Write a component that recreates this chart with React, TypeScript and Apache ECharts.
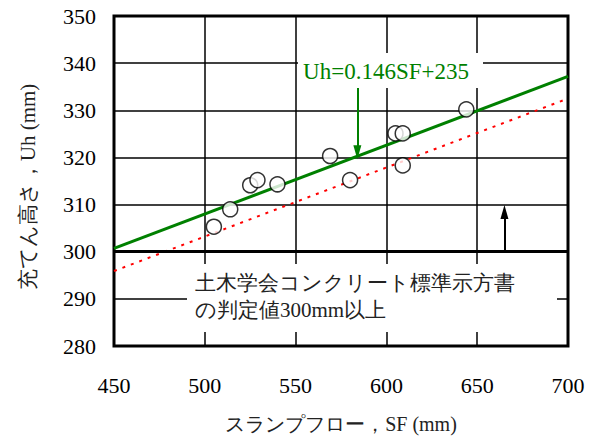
import React, { useEffect, useRef } from "react";
import * as echarts from "echarts";

const sfValues = [505, 514, 525, 529, 540, 569, 580, 605, 609, 609, 644];
const uhValues = [305.3, 309, 314.1, 315.2, 314.3, 320.3, 315.2, 325.1, 325.1, 318.3, 330.2];
const regressionLine = [[450, 300.7], [700, 337.2]];
const lowerLine = [[450, 295.9], [700, 332.5]];
const criterion = 300;
const greenArrow = [[584, 335.4], [584, 321.1]];
const blackArrow = [[665, 300], [665, 308.4]];
const xRange = [450, 700, 50];
const yRange = [280, 350, 10];
const equationText = "Uh=0.146SF+235";
const noteLines = ["土木学会コンクリート標準示方書", "の判定値300mm以上"];
const xName = "スランプフロー，SF (mm)";
const yName = "充てん高さ，Uh (mm)";

const FONT = "Liberation Serif";

export default function App() {
  const ref = useRef<HTMLDivElement>(null);
  useEffect(() => {
    if (!ref.current) return;
    document.body.style.margin = "0";
    const chart = echarts.init(ref.current, null, { renderer: "svg" });
    const points = sfValues.map((x, i) => [x, uhValues[i]]);
    chart.setOption({
      animation: false,
      textStyle: { fontFamily: FONT },
      grid: {
        left: 114,
        right: 27,
        top: 16,
        bottom: 93,
        show: true,
        borderColor: "#000",
        borderWidth: 3,
        backgroundColor: "transparent",
      },
      xAxis: {
        type: "value",
        min: xRange[0],
        max: xRange[1],
        interval: xRange[2],
        name: xName,
        nameLocation: "middle",
        nameGap: 68,
        nameTextStyle: { fontFamily: FONT, fontSize: 20, color: "#222" },
        axisLine: { show: false },
        axisTick: { show: false },
        axisLabel: { fontFamily: FONT, fontSize: 22, color: "#000", margin: 28 },
        splitLine: { show: true, lineStyle: { color: "#000", width: 1.5 } },
      },
      yAxis: {
        type: "value",
        min: yRange[0],
        max: yRange[1],
        interval: yRange[2],
        name: yName,
        nameLocation: "middle",
        nameGap: 76,
        nameTextStyle: { fontFamily: FONT, fontSize: 21, color: "#222", padding: [0, 12, 0, 0] },
        axisLine: { show: false },
        axisTick: { show: false },
        axisLabel: { fontFamily: FONT, fontSize: 22, color: "#000", margin: 18 },
        splitLine: { show: true, lineStyle: { color: "#000", width: 1.5 } },
      },
      series: [
        {
          type: "line",
          data: lowerLine,
          symbol: "none",
          silent: true,
          lineStyle: { color: "#ff0000", width: 2, type: [3, 6] },
          z: 2,
        },
        {
          type: "line",
          data: regressionLine,
          symbol: "none",
          silent: true,
          lineStyle: { color: "#008000", width: 3 },
          z: 3,
          markLine: {
            silent: true,
            symbol: ["none", "triangle"],
            symbolSize: [8, 14],
            label: { show: false },
            data: [
              [
                { coord: greenArrow[0], lineStyle: { color: "#008000", width: 2, type: "solid" } },
                { coord: greenArrow[1] },
              ],
              [
                { coord: blackArrow[0], lineStyle: { color: "#000", width: 2, type: "solid" } },
                { coord: blackArrow[1] },
              ],
            ],
          },
        },
        {
          type: "line",
          data: [],
          silent: true,
          markLine: {
            silent: true,
            symbol: ["none", "none"],
            label: { show: false },
            lineStyle: { color: "#000", width: 3, type: "solid" },
            data: [{ yAxis: criterion }],
          },
        },
        {
          type: "scatter",
          data: points,
          symbol: "circle",
          symbolSize: 15,
          itemStyle: { color: "#fff", borderColor: "#000", borderWidth: 1.5 },
          z: 5,
        },
      ],
      graphic: [
        {
          type: "rect",
          z: 10,
          shape: { x: 187, y: 264, width: 370, height: 68 },
          style: { fill: "#fff" },
          silent: true,
        },
        {
          type: "text",
          z: 11,
          x: 195,
          y: 283,
          style: {
            text: noteLines[0],
            fontFamily: FONT,
            fontSize: 21,
            fill: "#222",
            verticalAlign: "middle",
          },
        },
        {
          type: "text",
          z: 11,
          x: 195,
          y: 310,
          style: {
            text: noteLines[1],
            fontFamily: FONT,
            fontSize: 21,
            fill: "#222",
            verticalAlign: "middle",
          },
        },
        {
          type: "rect",
          z: 10,
          shape: { x: 298, y: 53, width: 185, height: 35 },
          style: { fill: "#fff" },
          silent: true,
        },
        {
          type: "text",
          z: 11,
          x: 386,
          y: 71,
          style: {
            text: equationText,
            fontFamily: FONT,
            fontSize: 23,
            fill: "#008000",
            align: "center",
            verticalAlign: "middle",
          },
        },
      ],
    });
    return () => chart.dispose();
  }, []);
  return <div ref={ref} style={{ width: 595, height: 439 }} />;
}
